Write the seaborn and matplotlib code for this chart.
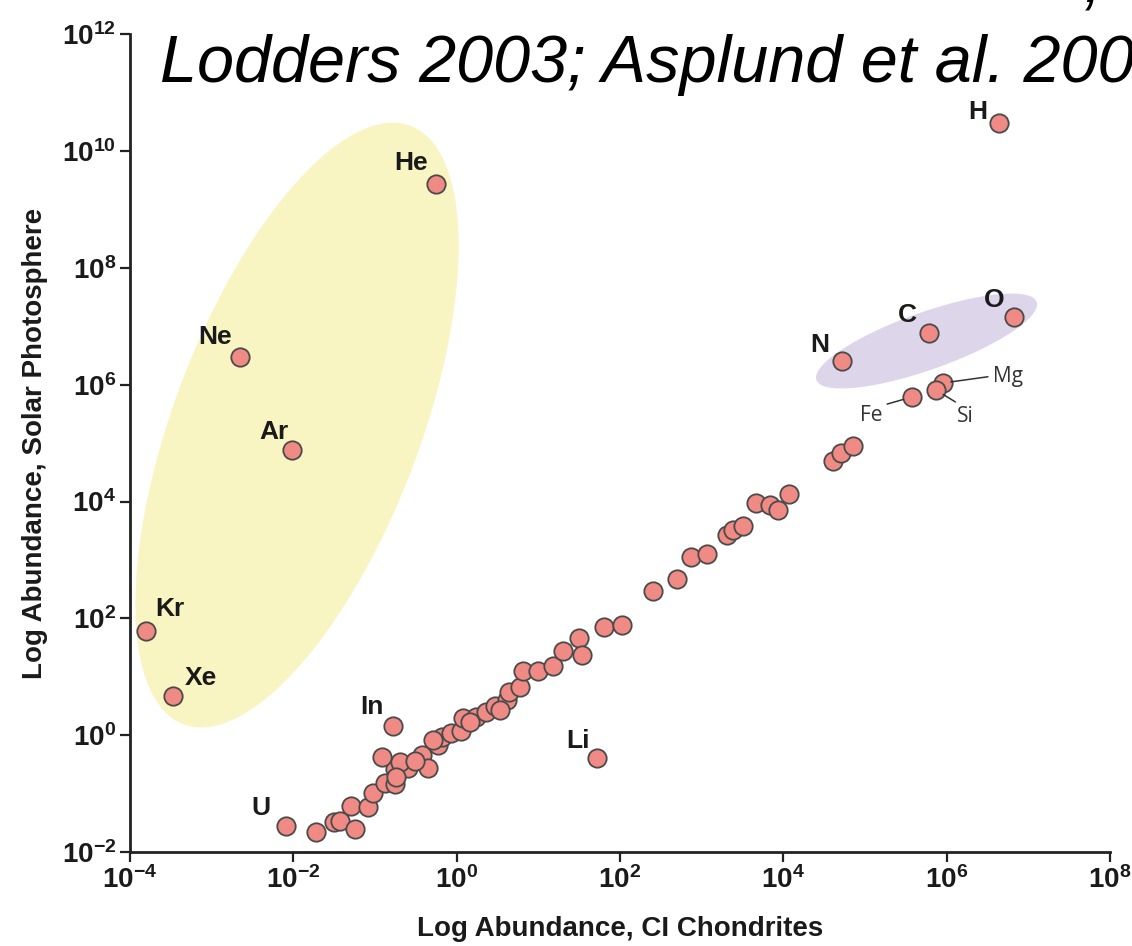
import numpy as np
import pandas as pd
import matplotlib
matplotlib.use("Agg")
import matplotlib.pyplot as plt
from matplotlib.ticker import FixedLocator, NullLocator, FuncFormatter
import seaborn as sns

# ---- data: log10 abundances (CI chondrites vs. solar photosphere) ----
labelled = ["H", "He", "Ne", "Ar", "Kr", "Xe", "N", "C", "O",
            "Mg", "Si", "Fe", "In", "Li", "U"]
labelled_ci = [6.64, -0.25, -2.65, -2.02, -3.80, -3.47, 4.72, 5.78, 6.82,
               5.95, 5.87, 5.57, -0.78, 1.72, -2.09]
labelled_sun = [10.48, 9.44, 6.48, 4.88, 1.78, 0.67, 6.40, 6.89, 7.16,
                6.03, 5.91, 5.79, 0.15, -0.39, -1.55]

trend_ci = [-1.72, -1.50, -1.43, -1.25, -1.29, -1.08, -1.02, -0.88, -0.76,
            -0.76, -0.60, -0.92, -0.69, -0.43, -0.35, -0.23, -0.18, -0.07,
            0.05, 0.08, 0.24, 0.36, 0.47, 0.62, 0.64, 0.77, 0.81, 1.00,
            1.18, 1.30, 1.50, 1.54, 1.80, 2.02, 2.40, 2.70, 2.87, 3.06,
            3.31, 3.38, 3.51, 3.66, 3.84, 3.93, 4.07, 4.61, 4.71, 4.85,
            -0.51, -0.29, 0.16, 0.53, -0.74]
trend_sun = [-1.65, -1.48, -1.47, -1.60, -1.22, -1.23, -0.99, -0.81, -0.83,
             -0.58, -0.56, -0.37, -0.46, -0.34, -0.57, -0.17, -0.03, 0.03,
             0.07, 0.30, 0.32, 0.40, 0.50, 0.60, 0.74, 0.83, 1.10, 1.10,
             1.19, 1.45, 1.66, 1.38, 1.85, 1.89, 2.47, 2.68, 3.05, 3.10,
             3.42, 3.52, 3.58, 3.98, 3.94, 3.85, 4.13, 4.70, 4.83, 4.95,
             -0.44, -0.08, 0.23, 0.43, -0.71]

# groups outlined by shaded ellipses (centre and conjugate half-axes, in decades)
noble_centre, noble_major, noble_minor = (-1.955, 5.31), (1.391, 5.123), (-1.408, 0.748)
cno_centre, cno_major, cno_minor = (5.753, 6.75), (1.348, 0.668), (-0.117, 0.463)

df = pd.DataFrame({
    "ci": 10.0 ** np.array(labelled_ci + trend_ci),
    "sun": 10.0 ** np.array(labelled_sun + trend_sun),
})

sns.set_theme(style="ticks")
plt.rcParams["font.family"] = ["Liberation Sans", "DejaVu Sans"]
plt.rcParams["mathtext.fontset"] = "custom"
plt.rcParams["mathtext.rm"] = "Liberation Sans:bold"
plt.rcParams["mathtext.it"] = "Liberation Sans:bold"
plt.rcParams["mathtext.bf"] = "Liberation Sans:bold"

W, H = 1132, 946
fig = plt.figure(figsize=(W / 100, H / 100), dpi=100)
ax = fig.add_axes([130 / W, 1 - 852 / H, 980 / W, (852 - 34.4) / H])
ax.set_xscale("log")
ax.set_yscale("log")
ax.set_xlim(1e-4, 1e8)
ax.set_ylim(1e-2, 1e12)


def shade(centre, major, minor, color):
    t = np.linspace(0, 2 * np.pi, 400)
    lx = centre[0] + major[0] * np.cos(t) + minor[0] * np.sin(t)
    ly = centre[1] + major[1] * np.cos(t) + minor[1] * np.sin(t)
    ax.fill(10.0 ** lx, 10.0 ** ly, color=color, lw=0, zorder=1)


shade(noble_centre, noble_major, noble_minor, "#f8f5c2")
shade(cno_centre, cno_major, cno_minor, "#ddd5ea")

sns.scatterplot(data=df, x="ci", y="sun", ax=ax, s=175, color="#ef8b84",
                edgecolor="#4a4a4a", linewidth=1.3, zorder=3, legend=False)

# bold element labels (offsets in points from the marker)
offsets = {"H": (-15, 8), "He": (-18, 15), "Ne": (-18, 14), "Ar": (-13, 13),
           "Kr": (17, 16), "Xe": (20, 13), "N": (-16, 12), "C": (-15, 13),
           "O": (-14, 12), "In": (-15, 14), "Li": (-14, 12), "U": (-18, 13)}
for name, cx, cy in zip(labelled, labelled_ci, labelled_sun):
    if name in offsets:
        ax.annotate(name, (10.0 ** cx, 10.0 ** cy), xytext=offsets[name],
                    textcoords="offset points", ha="center", va="center",
                    fontsize=19, fontweight="bold", color="#1a1a1a", zorder=5)

# lighter labels with leader lines
leaders = {"Mg": ((36, 5), (0, 0.5), "left"),
           "Si": ((21, -19), (0.3, 1.0), "center"),
           "Fe": ((-29, -13), (0.8, 0.9), "center")}
for name, cx, cy in zip(labelled, labelled_ci, labelled_sun):
    if name in leaders:
        off, rel, ha = leaders[name]
        ax.annotate(name, (10.0 ** cx, 10.0 ** cy), xytext=off,
                    textcoords="offset points", ha=ha, va="center",
                    fontsize=15, family=["Open Sans", "DejaVu Sans"],
                    color="#333333", zorder=5,
                    arrowprops=dict(arrowstyle="-", color="#333333", lw=1.1,
                                    shrinkA=1, shrinkB=6, relpos=rel))

# axes styling
sns.despine(ax=ax)
for side in ("left", "bottom"):
    ax.spines[side].set_linewidth(2.0)
    ax.spines[side].set_color("#222222")
ax.xaxis.set_major_locator(FixedLocator(10.0 ** np.arange(-4, 9, 2)))
ax.yaxis.set_major_locator(FixedLocator(10.0 ** np.arange(-2, 13, 2)))
ax.xaxis.set_minor_locator(NullLocator())
ax.yaxis.set_minor_locator(NullLocator())
fmt = FuncFormatter(lambda v, p: r"$10^{%d}$" % int(round(np.log10(v))))
ax.xaxis.set_major_formatter(fmt)
ax.yaxis.set_major_formatter(fmt)
ax.tick_params(axis="both", direction="out", length=7, width=1.6,
               color="#222222", labelsize=20, labelcolor="#1a1a1a", pad=3)
ax.set_xlabel("Log Abundance, CI Chondrites", fontsize=20, fontweight="bold",
              color="#1a1a1a", labelpad=16)
ax.set_ylabel("Log Abundance, Solar Photosphere", fontsize=20,
              fontweight="bold", color="#1a1a1a", labelpad=10)

# heading running off the right edge
fig.text(160 / W, 1 - 82 / H, "Lodders 2003; Asplund et al. 2005",
         fontsize=48, style="italic", va="baseline", color="#000000")
fig.text(1084 / W, 1 - 2 / H, ",", fontsize=46, style="italic",
         va="baseline", color="#000000")

fig.savefig("out.png", dpi=100)
